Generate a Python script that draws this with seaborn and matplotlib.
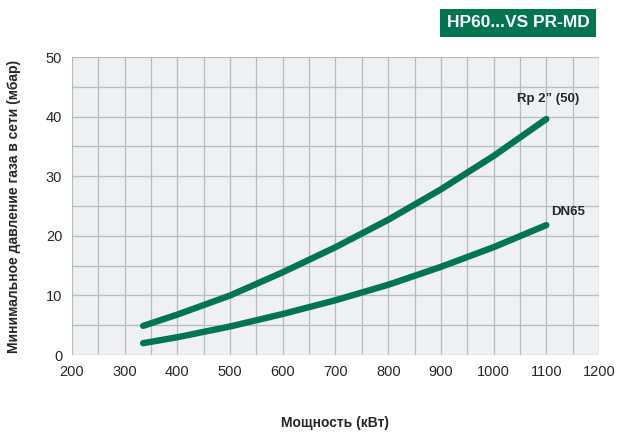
import pandas as pd
import matplotlib.pyplot as plt
import seaborn as sns

sns.set_style("white")
plt.rcParams['font.family'] = ['Liberation Sans', 'DejaVu Sans']

power = [335, 400, 500, 600, 700, 800, 900, 1000, 1100]
rp2 = [4.9, 6.8, 10.0, 13.9, 18.1, 22.7, 27.8, 33.4, 39.6]
dn65 = [2.0, 3.0, 4.8, 6.9, 9.2, 11.8, 14.8, 18.1, 21.8]
series_names = ["Rp 2\u201d (50)", "DN65"]

df = pd.concat([
    pd.DataFrame({"power": power, "p": rp2, "series": series_names[0]}),
    pd.DataFrame({"power": power, "p": dn65, "series": series_names[1]}),
])

green = "#007552"
fig = plt.figure(figsize=(6.19, 4.32), dpi=100)
ax = fig.add_axes([0.1163, 0.178, 0.8514, 0.69])
ax.set_facecolor("#eef0f2")

sns.lineplot(data=df, x="power", y="p", hue="series", palette=[green, green],
             linewidth=4.6, legend=False, ax=ax, solid_capstyle="round",
             solid_joinstyle="round")

ax.set_xlim(200, 1200)
ax.set_ylim(0, 50)
ax.set_xticks(range(200, 1201, 100))
ax.set_yticks(range(0, 51, 10))
ax.set_xticks(range(200, 1201, 50), minor=True)
ax.set_yticks(range(0, 51, 5), minor=True)
ax.grid(which="both", color="#b4bcc4", linewidth=0.9)
ax.set_axisbelow(True)
for s in ax.spines.values():
    s.set_visible(False)
ax.tick_params(which="major", length=4, color="#999999", labelsize=10.5, pad=3)
ax.tick_params(which="minor", length=0)

ax.set_xlabel("Мощность (кВт)", fontweight="bold", fontsize=10, labelpad=27)
ax.set_ylabel("Минимальное давление газа в сети (мбар)", fontweight="bold",
              fontsize=10, labelpad=18)

ax.text(1103, 43, series_names[0], fontweight="bold", fontsize=9.5, ha="center", va="center")
ax.text(1141, 24, series_names[1], fontweight="bold", fontsize=9.5, ha="center", va="center")

fig.text(0.837, 0.947, "HP60...VS PR-MD", color="white", fontweight="bold",
         fontsize=12.5, ha="center", va="center",
         bbox=dict(boxstyle="square,pad=0.38", facecolor="#00754f", edgecolor="none"))

fig.savefig("out.png", dpi=100)
